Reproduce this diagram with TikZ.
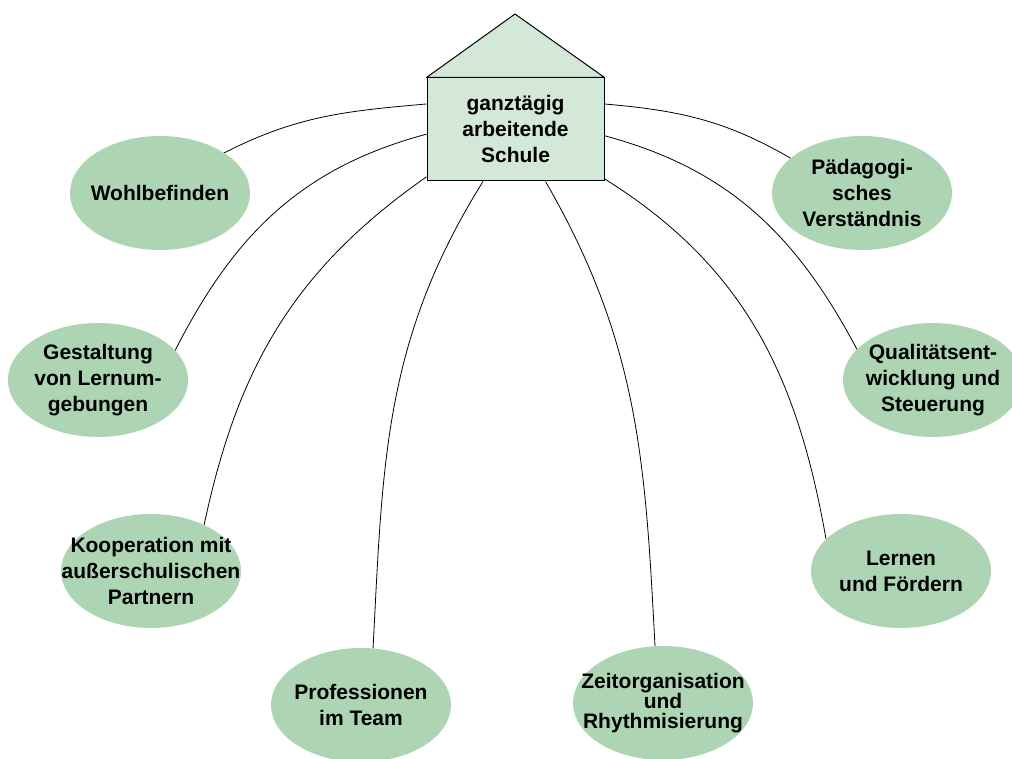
\documentclass[tikz,border=0pt]{standalone}
\usepackage{fontspec}
\setmainfont{Liberation Sans}
\usetikzlibrary{shapes.geometric}

\definecolor{hausgruen}{RGB}{212,232,216}
\definecolor{feldgruen}{RGB}{173,213,180}

\begin{document}
\begin{tikzpicture}[x=1pt, y=1pt,
	every node/.style={font=\bfseries\fontsize{21}{26}\selectfont, align=center},
	feld/.style={ellipse, fill=feldgruen, minimum width=180, minimum height=114, inner sep=0pt,
		label={center:#1}},
	haus/.style={rectangle, draw, line width=1pt, fill=hausgruen, minimum width=177, minimum height=103},
	bogen/.style={line width=0.8pt}]

	\useasboundingbox (0,0) rectangle (1012,758);

	\node[haus] (schule) at (515.5,628.5) {ganztägig\\arbeitende\\Schule};
	\coordinate (giebel) at (515,744);
	\filldraw[fill=hausgruen, line width=1pt, line join=round]
	(schule.north west) -- (giebel) -- (schule.north east) -- cycle;

	\node[feld={Wohlbefinden}] (wohl) at (160,565) {};
	\node[feld={Gestaltung\\von Lernum-\\gebungen}] (gestalt) at (98,378) {};
	\node[feld={Kooperation mit\\außerschulischen\\Partnern}] (koop) at (151,187) {};
	\node[feld={Professionen\\im Team}] (prof) at (361,53) {};
	\node[feld={Zeitorganisation\\[-6pt]und\\[-6pt]Rhythmisierung}] (zeit) at (663,55) {};
	\node[feld={Lernen\\und Fördern}] (lernen) at (901,187) {};
	\node[feld={Qualitätsent-\\wicklung und\\Steuerung}] (quali) at (933,378) {};
	\node[feld={Pädagogi-\\sches\\Verständnis}] (paed) at (862,565) {};

	\draw[bogen]
	(schule.164) to[out=185, in=27] (wohl.32)
	(schule.183) to[out=195, in=63] (gestalt.21)
	(schule.208) to[out=215, in=78] (koop.41)
	(schule.238) to[out=238, in=87] (prof.78)
	(schule.300) to[out=300, in=93] (zeit.98)
	(schule.331) to[out=328, in=100] (lernen.157)
	(schule.356) to[out=345, in=118] (quali.158)
	(schule.16) to[out=355, in=150] (paed.154);

\end{tikzpicture}
\end{document}
